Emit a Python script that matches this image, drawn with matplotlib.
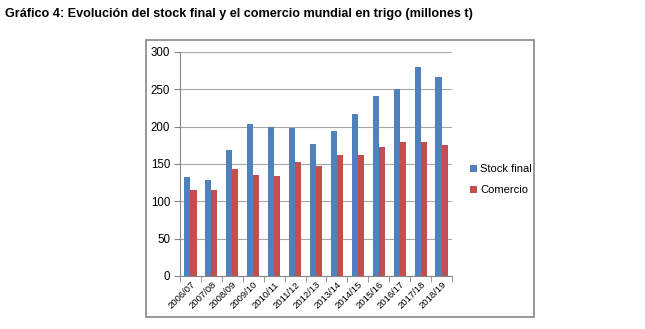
import numpy as np
import matplotlib
matplotlib.use("Agg")
import matplotlib.pyplot as plt
from matplotlib.patches import Rectangle

# datos
campanias = ['2006/07', '2007/08', '2008/09', '2009/10', '2010/11', '2011/12', '2012/13',
             '2013/14', '2014/15', '2015/16', '2016/17', '2017/18', '2018/19']
stock_final = [133, 128, 169, 203, 199, 198, 177, 194, 217, 241, 251, 280, 267]
comercio = [115, 115, 143, 135, 134, 153, 147, 162, 162, 173, 179, 179, 176]

plt.rcParams['font.family'] = ['Liberation Sans', 'DejaVu Sans']

fig = plt.figure(figsize=(6.45, 3.29), dpi=100)
fig.patch.set_facecolor('white')

# titulo
fig.text(5 / 645, 1 - 14 / 329, 'Gráfico 4: Evolución del stock final y el comercio mundial en trigo (millones t)',
         fontsize=9.1, fontweight='bold', va='center', ha='left')

# marco del grafico
fig.patches.append(Rectangle((146 / 645, 1 - 317 / 329), (534 - 146) / 645, (317 - 40) / 329,
                             transform=fig.transFigure, fill=False, edgecolor='#868686', linewidth=1.2))

ax = fig.add_axes([180 / 645, 1 - 276 / 329, (452 - 180) / 645, (276 - 52) / 329])

x = np.arange(len(campanias))
w = 0.29
ax.bar(x - w / 2, stock_final, w, color='#4F81BD', label='Stock final', zorder=3)
ax.bar(x + w / 2, comercio, w, color='#C0504D', label='Comercio', zorder=3)

ax.set_xlim(-0.5, len(campanias) - 0.5)
ax.set_ylim(0, 300)
ax.set_yticks(range(0, 301, 50))
ax.yaxis.grid(True, color='#a6a6a6', linewidth=0.8, zorder=0)

ax.set_xticks(x)
ax.set_xticklabels(campanias, rotation=45, ha='right', rotation_mode='anchor', fontsize=6.8)
ax.tick_params(axis='x', length=0, pad=3)
ax.set_xticks(np.arange(-0.5, len(campanias), 1), minor=True)
ax.tick_params(axis='x', which='minor', length=4, color='#868686')
ax.tick_params(axis='y', labelsize=8.3, length=4, color='#868686', pad=3)

for s in ['top', 'right']:
    ax.spines[s].set_visible(False)
for s in ['left', 'bottom']:
    ax.spines[s].set_color('#868686')

leg = ax.legend(loc='center left', bbox_to_anchor=(1.03, 0.43), frameon=False, fontsize=8,
                handlelength=0.6, handleheight=0.6, handletextpad=0.3, labelspacing=1.0)

fig.savefig('out.png', dpi=100)
